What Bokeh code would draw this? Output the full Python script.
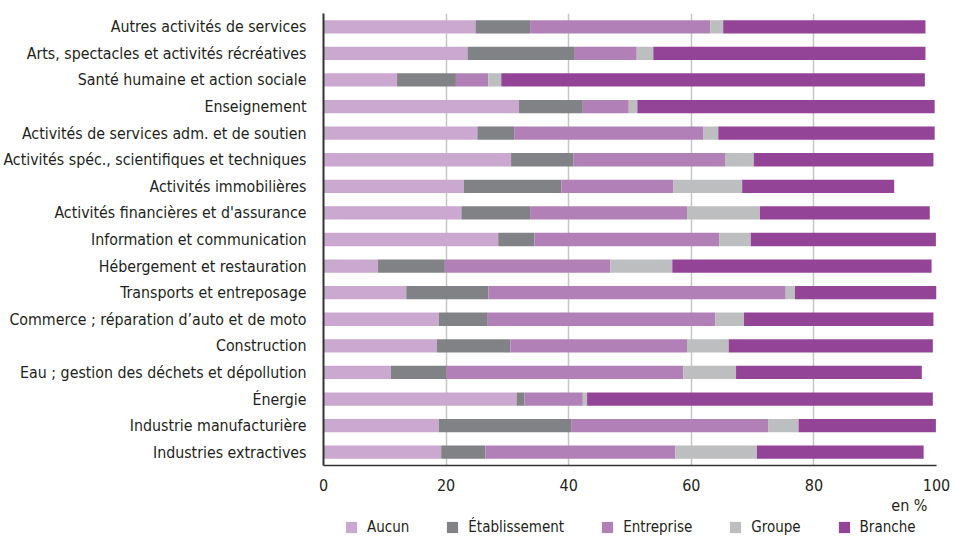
from bokeh.plotting import figure
from bokeh.layouts import column
from bokeh.models import ColumnDataSource, FactorRange, Range1d, Legend, LegendItem, Title, FixedTicker
from bokeh.embed import file_html
from bokeh.resources import INLINE

# Categories listed top to bottom as in the chart
categories = [
    "Autres activités de services",
    "Arts, spectacles et activités récréatives",
    "Santé humaine et action sociale",
    "Enseignement",
    "Activités de services adm. et de soutien",
    "Activités spéc., scientifiques et techniques",
    "Activités immobilières",
    "Activités financières et d'assurance",
    "Information et communication",
    "Hébergement et restauration",
    "Transports et entreposage",
    "Commerce ; réparation d’auto et de moto",
    "Construction",
    "Eau ; gestion des déchets et dépollution",
    "Énergie",
    "Industrie manufacturière",
    "Industries extractives",
]

aucun         = [24.8, 23.5, 12.0, 31.9, 25.1, 30.6, 22.9, 22.5, 28.5,  8.9, 13.5, 18.8, 18.5, 11.0, 31.5, 18.8, 19.2]
etablissement = [ 8.9, 17.5,  9.6, 10.4,  6.0, 10.2, 15.9, 11.2,  5.9, 10.9, 13.4,  8.0, 12.0,  9.1,  1.3, 21.6,  7.2]
entreprise    = [29.4, 10.1,  5.3,  7.5, 30.9, 24.7, 18.3, 25.6, 30.2, 27.0, 48.5, 37.1, 28.8, 38.6,  9.5, 32.2, 31.0]
groupe        = [ 2.1,  2.7,  2.1,  1.4,  2.4,  4.7, 11.2, 11.9,  5.1, 10.1,  1.5,  4.7,  6.8,  8.6,  0.7,  4.9, 13.3]
branche       = [33.0, 44.4, 69.1, 48.5, 35.3, 29.3, 24.8, 27.7, 30.2, 42.3, 23.1, 30.9, 33.3, 30.3, 56.4, 22.4, 27.2]

series = ["Aucun", "Établissement", "Entreprise", "Groupe", "Branche"]
colors = ["#cba8cf", "#818285", "#b180b7", "#bdbec0", "#934496"]
x_ticks = [0, 20, 40, 60, 80, 100]
unit_label = "en %"

FONT = "'Liberation Sans Narrow', 'DejaVu Sans Condensed', 'Arial Narrow', sans-serif"
TXT = "#231f20"

cats = categories[::-1]
source = ColumnDataSource(data=dict(
    cat=cats,
    Aucun=aucun[::-1],
    **{"Établissement": etablissement[::-1]},
    Entreprise=entreprise[::-1],
    Groupe=groupe[::-1],
    Branche=branche[::-1],
))

p = figure(
    width=953, height=493,
    y_range=FactorRange(factors=cats, range_padding=0),
    x_range=Range1d(0, 100),
    output_backend="svg", toolbar_location=None,
    min_border_top=13, min_border_right=17, min_border_bottom=0, min_border_left=0,
)

renderers = p.hbar_stack(series, y="cat", height=0.5, fill_color=colors,
                         line_color=None, source=source)

p.outline_line_color = None
p.ygrid.grid_line_color = None
p.xgrid.grid_line_color = "#c6c6c6"
p.xgrid.grid_line_width = 1.5
p.xgrid.ticker = FixedTicker(ticks=x_ticks)

p.xaxis.ticker = FixedTicker(ticks=x_ticks)
p.xaxis.axis_line_color = "#333333"
p.xaxis.axis_line_width = 1.5
p.xaxis.major_tick_line_color = None
p.xaxis.minor_tick_line_color = None
p.xaxis.major_label_text_font = FONT
p.xaxis.major_label_text_font_size = "16px"
p.xaxis.major_label_text_color = TXT
p.xaxis.major_label_standoff = 7

p.yaxis.axis_line_color = "#333333"
p.yaxis.axis_line_width = 2
p.yaxis.major_tick_line_color = None
p.yaxis.minor_tick_line_color = None
p.yaxis.major_label_text_font = FONT
p.yaxis.major_label_text_font_size = "15.8px"
p.yaxis.major_label_text_color = TXT
p.yaxis.major_label_standoff = 11

# Strip below the chart: unit note and legend (hidden copy of the stacked bars gives the swatches)
lg = figure(width=953, height=43,
            y_range=FactorRange(factors=cats, range_padding=0),
            x_range=Range1d(0, 100),
            output_backend="svg", toolbar_location=None,
            x_axis_location=None, y_axis_location=None,
            min_border_top=0, min_border_right=17, min_border_bottom=0, min_border_left=314)
lg.outline_line_color = None
lg.grid.grid_line_color = None
lg.background_fill_alpha = 0
lg.add_layout(Title(text=unit_label, align="right", offset=9, standoff=0,
                    text_font=FONT, text_font_size="16px", text_color=TXT,
                    text_font_style="normal"), "above")
swatches = lg.hbar_stack(series, y="cat", height=0.5, fill_color=colors,
                         line_color=None, source=source, visible=False)
items = [LegendItem(label=s, renderers=[r]) for s, r in zip(series, swatches)]
legend = Legend(items=items, orientation="horizontal", location=(21, 0),
                glyph_width=14, glyph_height=14, label_height=18, spacing=36,
                label_standoff=9, padding=0, margin=0, border_line_color=None,
                background_fill_alpha=0, inactive_fill_alpha=0,
                label_text_font=FONT, label_text_font_size="15px",
                label_text_color=TXT)
lg.add_layout(legend)

layout = column(p, lg, spacing=0)
open("out.html", "w").write(file_html(layout, INLINE))
